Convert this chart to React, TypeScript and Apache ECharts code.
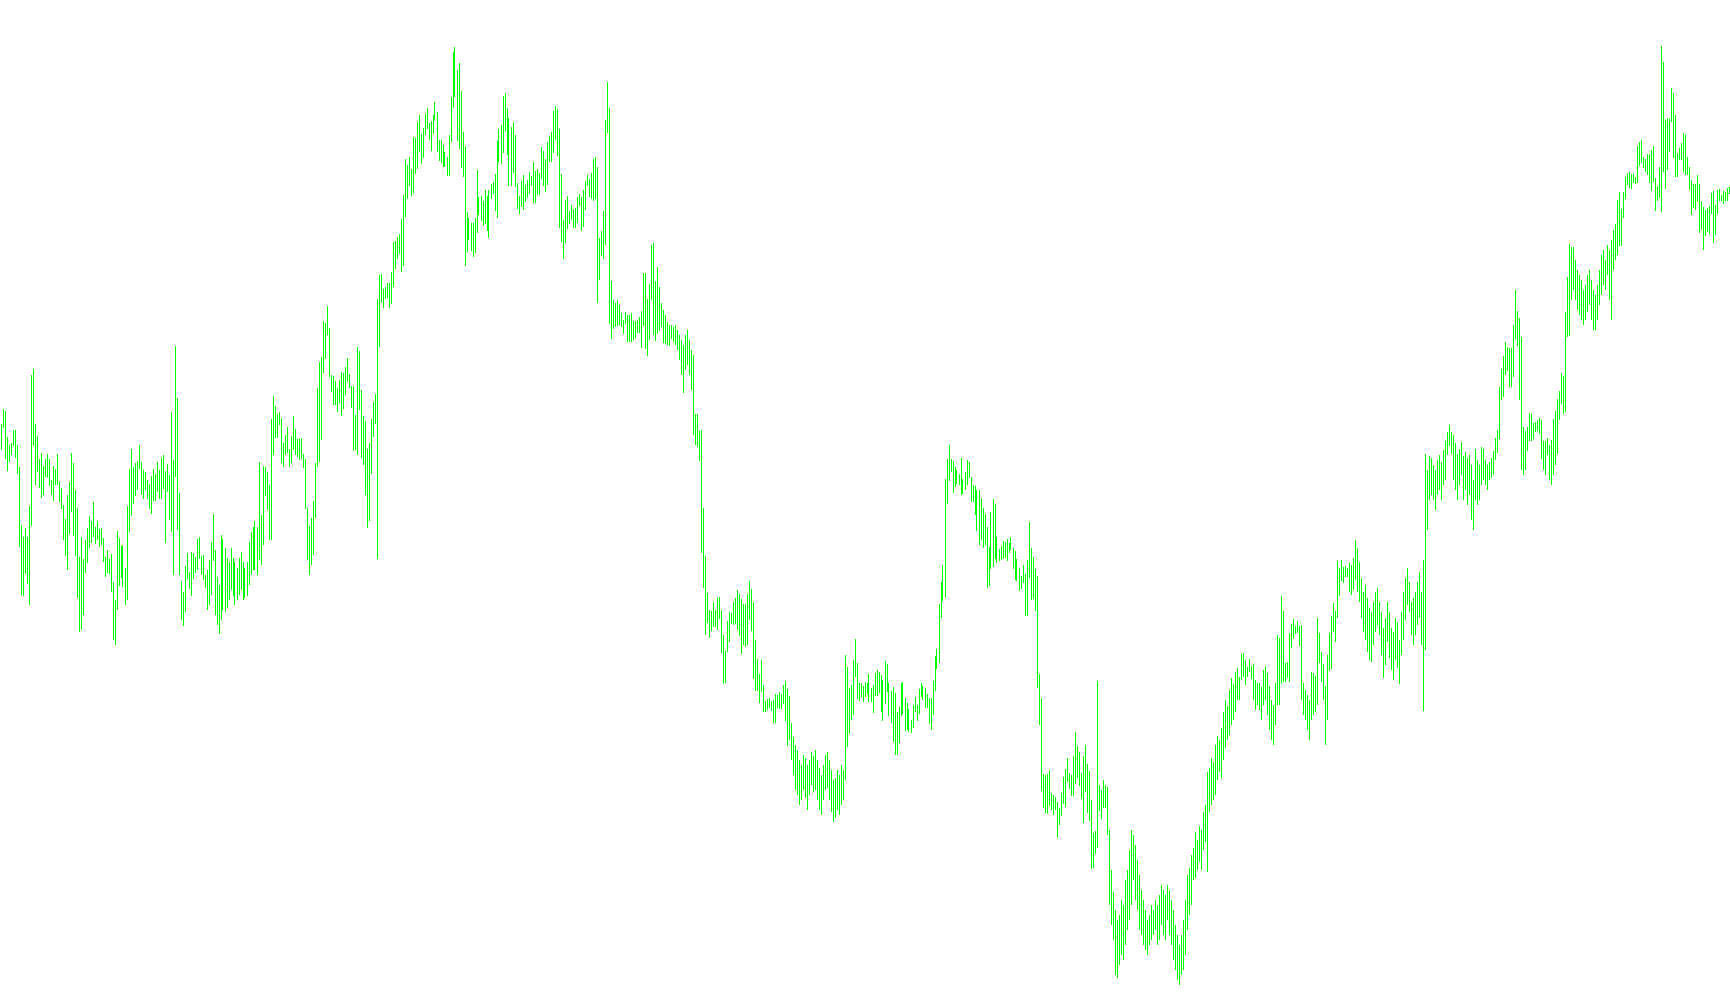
import React, { useEffect, useRef } from "react";
import * as echarts from "echarts";

// Each bar is a high-low range; values are on an inverted price-index axis (0 = top of chart).
const barTop: number[] = [
  424, 409, 411, 437, 445, 443, 430, 430, 445, 467,
  525, 537, 528, 537, 506, 375, 369, 424, 436, 459,
  453, 466, 459, 454, 459, 480, 466, 469, 454, 481,
  488, 505, 519, 495, 482, 453, 463, 490, 508, 557,
  537, 559, 540, 528, 516, 521, 502, 527, 521, 529,
  528, 538, 557, 550, 559, 554, 582, 600, 531, 538,
  546, 545, 568, 506, 469, 449, 467, 463, 461, 445,
  462, 470, 472, 480, 484, 476, 469, 474, 462, 470,
  458, 455, 471, 464, 475, 412, 460, 346, 398, 493,
  581, 592, 566, 553, 572, 552, 553, 557, 539, 537,
  556, 555, 575, 570, 560, 542, 514, 550, 577, 585,
  535, 539, 548, 558, 562, 548, 558, 562, 568, 558,
  552, 562, 568, 562, 542, 532, 527, 521, 527, 462,
  515, 466, 467, 472, 485, 419, 396, 406, 414, 412,
  418, 443, 435, 427, 449, 436, 416, 429, 439, 439,
  438, 454, 459, 508, 526, 518, 501, 463, 388, 362,
  357, 321, 323, 306, 328, 375, 376, 381, 388, 380,
  372, 373, 367, 358, 374, 386, 386, 415, 347, 351,
  390, 416, 421, 449, 443, 419, 402, 394, 299, 275,
  274, 289, 287, 283, 283, 272, 242, 241, 237, 234,
  219, 195, 159, 165, 157, 169, 137, 138, 122, 115,
  134, 128, 114, 108, 123, 121, 115, 102, 112, 140,
  140, 145, 152, 157, 135, 97, 52, 47, 70, 63,
  91, 132, 146, 212, 218, 223, 223, 218, 170, 197,
  196, 201, 190, 196, 190, 184, 182, 174, 141, 129,
  125, 96, 93, 108, 118, 127, 122, 135, 183, 196,
  181, 175, 185, 180, 172, 176, 162, 171, 169, 173,
  147, 151, 159, 142, 136, 132, 111, 106, 109, 129,
  174, 220, 200, 196, 211, 205, 209, 208, 197, 194,
  197, 190, 181, 175, 179, 173, 159, 157, 167, 238,
  231, 211, 120, 82, 108, 281, 300, 303, 300, 305,
  313, 320, 312, 315, 315, 313, 321, 321, 320, 317,
  311, 273, 273, 299, 284, 245, 243, 281, 267, 287,
  303, 310, 315, 322, 325, 325, 327, 325, 330, 335,
  340, 345, 335, 330, 340, 350, 355, 414, 414, 431,
  430, 508, 556, 593, 610, 611, 602, 610, 598, 597,
  610, 635, 651, 621, 612, 613, 602, 598, 590, 594,
  599, 604, 604, 594, 581, 589, 602, 640, 659, 674,
  660, 685, 701, 699, 698, 701, 700, 694, 695, 692,
  694, 685, 681, 689, 696, 723, 737, 745, 750, 760,
  765, 755, 758, 765, 760, 752, 756, 750, 760, 768,
  775, 765, 755, 752, 760, 770, 780, 778, 770, 775,
  765, 770, 655, 667, 688, 685, 660, 639, 663, 683,
  683, 686, 682, 683, 674, 688, 685, 673, 670, 672,
  675, 680, 661, 664, 683, 691, 687, 693, 712, 707,
  683, 682, 698, 703, 709, 720, 705, 697, 705, 689,
  683, 686, 688, 694, 698, 698, 681, 656, 649, 604,
  582, 565, 479, 459, 445, 459, 461, 467, 470, 474,
  458, 479, 472, 460, 462, 477, 485, 486, 490, 490,
  498, 508, 514, 527, 547, 512, 499, 504, 537, 549,
  546, 541, 542, 539, 543, 537, 548, 551, 559, 568,
  576, 565, 574, 560, 522, 548, 557, 569, 576, 674,
  698, 774, 775, 774, 770, 793, 795, 797, 802, 808,
  793, 777, 769, 758, 773, 775, 756, 732, 746, 752,
  773, 756, 745, 764, 771, 800, 833, 831, 681, 785,
  790, 780, 785, 787, 830, 870, 892, 910, 920, 915,
  900, 905, 880, 870, 850, 830, 835, 845, 860, 875,
  890, 900, 910, 920, 915, 905, 910, 900, 905, 895,
  885, 890, 895, 885, 890, 900, 910, 925, 935, 945,
  935, 920, 900, 875, 868, 855, 848, 832, 840, 826,
  830, 812, 805, 772, 768, 758, 762, 745, 736, 740,
  728, 712, 700, 706, 690, 678, 684, 672, 668, 677,
  654, 653, 660, 667, 659, 666, 664, 680, 683, 683,
  687, 670, 666, 673, 686, 700, 705, 683, 635, 638,
  596, 611, 663, 662, 633, 624, 619, 626, 621, 626,
  625, 683, 690, 695, 700, 672, 673, 676, 618, 633,
  652, 664, 686, 655, 633, 616, 603, 611, 561, 568,
  560, 567, 566, 568, 563, 565, 558, 540, 548, 562,
  578, 592, 585, 598, 608, 612, 602, 592, 588, 602,
  612, 628, 618, 602, 612, 628, 632, 618, 622, 640,
  612, 592, 578, 568, 582, 602, 598, 592, 582, 572,
  592, 560, 454, 470, 456, 458, 465, 470, 460, 455,
  462, 450, 441, 432, 425, 432, 435, 443, 454, 449,
  442, 456, 452, 458, 455, 465, 480, 449, 460, 465,
  447, 449, 460, 465, 462, 458, 451, 438, 430, 387,
  369, 356, 342, 347, 348, 348, 325, 290, 311, 318,
  337, 427, 431, 427, 413, 414, 423, 422, 420, 418,
  420, 441, 441, 438, 445, 440, 419, 411, 399, 391,
  373, 376, 312, 277, 244, 247, 247, 260, 270, 275,
  280, 290, 285, 275, 270, 280, 290, 295, 285, 270,
  255, 250, 260, 245, 250, 240, 230, 224, 200, 192,
  209, 192, 177, 173, 172, 174, 174, 177, 146, 142,
  140, 157, 159, 154, 154, 150, 146, 178, 186, 167,
  46, 62, 120, 118, 119, 88, 93, 115, 153, 148,
  143, 133, 135, 157, 167, 180, 184, 184, 175, 184,
  201, 207, 210, 208, 206, 193, 191, 205, 190, 189,
  195, 191, 192, 188, 187,
];

const barBottom: number[] = [
  450, 428, 459, 471, 462, 455, 446, 458, 474, 547,
  595, 596, 574, 584, 605, 526, 446, 485, 472, 488,
  498, 495, 477, 478, 486, 495, 501, 485, 485, 502,
  509, 540, 556, 570, 534, 512, 536, 556, 598, 632,
  630, 615, 573, 563, 548, 543, 537, 544, 540, 547,
  545, 562, 577, 573, 574, 592, 640, 645, 610, 586,
  578, 587, 605, 600, 532, 516, 504, 496, 490, 469,
  495, 499, 490, 499, 509, 514, 501, 501, 492, 499,
  499, 489, 543, 492, 520, 532, 575, 477, 530, 575,
  620, 626, 612, 579, 589, 596, 579, 573, 570, 559,
  575, 580, 588, 610, 605, 595, 561, 615, 625, 634,
  620, 610, 612, 608, 600, 590, 596, 605, 600, 595,
  590, 600, 598, 596, 585, 575, 570, 570, 575, 560,
  565, 545, 496, 510, 540, 540, 455, 438, 438, 425,
  463, 467, 455, 453, 467, 463, 450, 455, 457, 460,
  459, 468, 509, 560, 575, 565, 555, 518, 467, 462,
  440, 373, 359, 335, 377, 392, 405, 405, 412, 403,
  416, 409, 395, 382, 388, 408, 451, 450, 455, 410,
  458, 465, 495, 528, 521, 474, 437, 424, 559, 347,
  303, 308, 299, 298, 308, 304, 287, 269, 259, 254,
  272, 266, 217, 199, 186, 196, 193, 174, 169, 152,
  164, 158, 135, 129, 140, 151, 134, 121, 152, 161,
  163, 167, 167, 176, 176, 142, 108, 97, 141, 149,
  168, 177, 266, 252, 240, 251, 257, 253, 233, 215,
  221, 226, 224, 231, 238, 199, 194, 211, 218, 162,
  164, 153, 131, 155, 186, 186, 173, 187, 209, 214,
  207, 210, 202, 198, 194, 186, 203, 203, 195, 195,
  179, 186, 192, 185, 162, 162, 153, 140, 156, 228,
  242, 259, 243, 229, 224, 220, 228, 228, 223, 206,
  231, 227, 210, 186, 197, 199, 201, 199, 303, 280,
  256, 259, 245, 133, 324, 339, 329, 327, 326, 325,
  327, 334, 324, 342, 342, 342, 340, 338, 333, 333,
  348, 326, 349, 356, 340, 300, 335, 341, 334, 331,
  327, 343, 344, 345, 346, 339, 342, 345, 350, 360,
  375, 393, 370, 365, 375, 390, 435, 445, 447, 461,
  553, 588, 635, 623, 638, 631, 627, 627, 630, 619,
  653, 684, 683, 652, 642, 624, 625, 624, 630, 636,
  654, 645, 647, 645, 620, 631, 679, 691, 691, 703,
  692, 712, 712, 710, 708, 711, 723, 723, 708, 709,
  709, 704, 721, 746, 740, 760, 775, 790, 795, 805,
  800, 790, 798, 810, 795, 785, 792, 790, 800, 810,
  815, 800, 790, 788, 800, 812, 822, 818, 810, 815,
  805, 800, 780, 747, 734, 720, 715, 677, 699, 701,
  697, 702, 697, 694, 702, 702, 713, 696, 696, 693,
  712, 721, 704, 692, 716, 723, 742, 755, 755, 743,
  716, 714, 731, 730, 732, 733, 728, 712, 721, 714,
  697, 700, 708, 708, 724, 730, 715, 691, 669, 663,
  618, 601, 598, 504, 481, 472, 493, 487, 484, 485,
  495, 494, 490, 485, 478, 502, 502, 515, 531, 545,
  540, 548, 545, 588, 586, 569, 567, 559, 563, 561,
  560, 559, 558, 561, 553, 550, 569, 580, 581, 591,
  589, 583, 616, 616, 578, 600, 599, 611, 688, 725,
  791, 808, 813, 814, 806, 810, 815, 810, 838, 825,
  816, 804, 807, 782, 789, 796, 796, 784, 778, 786,
  799, 823, 792, 813, 821, 869, 868, 854, 848, 811,
  819, 808, 808, 835, 905, 925, 940, 975, 978, 965,
  955, 960, 945, 930, 920, 905, 880, 900, 910, 930,
  935, 945, 950, 955, 945, 940, 935, 930, 945, 940,
  925, 935, 940, 920, 935, 945, 960, 970, 980, 985,
  975, 970, 955, 930, 915, 905, 880, 878, 870, 862,
  870, 850, 842, 872, 812, 805, 800, 795, 780, 772,
  778, 760, 748, 740, 735, 725, 720, 712, 700, 700,
  680, 677, 685, 677, 672, 679, 700, 710, 705, 710,
  720, 705, 700, 715, 730, 740, 745, 725, 705, 705,
  684, 682, 682, 678, 682, 648, 639, 634, 633, 646,
  700, 715, 720, 730, 740, 720, 715, 712, 705, 663,
  682, 700, 745, 720, 671, 669, 632, 642, 618, 596,
  581, 583, 577, 577, 592, 595, 590, 580, 592, 602,
  618, 632, 640, 652, 660, 662, 645, 632, 625, 635,
  655, 678, 665, 642, 658, 670, 680, 660, 668, 684,
  655, 640, 620, 605, 612, 635, 645, 635, 625, 618,
  645, 711, 650, 530, 500, 495, 500, 510, 495, 490,
  500, 485, 480, 455, 446, 454, 480, 490, 500, 485,
  475, 500, 490, 505, 495, 520, 530, 500, 505, 500,
  485, 480, 485, 490, 480, 478, 475, 460, 453, 439,
  400, 397, 375, 371, 387, 387, 377, 339, 346, 400,
  470, 475, 470, 451, 441, 441, 439, 432, 431, 434,
  459, 470, 475, 455, 480, 485, 475, 465, 454, 420,
  404, 414, 412, 337, 336, 300, 290, 300, 310, 315,
  320, 325, 320, 312, 305, 320, 330, 330, 320, 305,
  295, 285, 290, 275, 300, 320, 270, 260, 255, 246,
  246, 218, 199, 185, 188, 189, 183, 184, 183, 166,
  163, 168, 172, 175, 183, 191, 182, 211, 201, 198,
  212, 172, 189, 170, 152, 122, 158, 177, 177, 160,
  160, 172, 175, 175, 190, 215, 208, 210, 202, 233,
  230, 250, 236, 232, 234, 214, 243, 235, 214, 201,
  201, 204, 201, 201, 194,
];

const categories: string[] = barTop.map((_, i) => String(i + 1));

const BAR_COLOR = "#00ff00";

export default function App() {
  const ref = useRef<HTMLDivElement>(null);

  useEffect(() => {
    if (!ref.current) return;
    const chart = echarts.init(ref.current, null, { renderer: "svg" });
    const data = barTop.map((t, i) => [i, t, barBottom[i]]);
    chart.setOption({
      animation: false,
      backgroundColor: "#ffffff",
      grid: { left: 0, top: 0, right: 0, bottom: 0 },
      xAxis: {
        type: "category",
        data: categories,
        boundaryGap: true,
        show: false,
      },
      yAxis: {
        type: "value",
        inverse: true,
        min: 0,
        max: 1005,
        show: false,
      },
      series: [
        {
          type: "custom",
          clip: false,
          encode: { x: 0, y: [1, 2] },
          data,
          renderItem: (params: any, api: any) => {
            const idx = api.value(0);
            const p1 = api.coord([idx, api.value(1)]);
            const p2 = api.coord([idx, api.value(2)]);
            // a filled 1px-wide rect aligned to the pixel grid keeps each bar crisp
            const x = Math.floor(p1[0]);
            const y1 = Math.round(p1[1]);
            const y2 = Math.round(p2[1]);
            return {
              type: "rect",
              shape: { x, y: y1, width: 1, height: Math.max(1, y2 - y1) },
              style: { fill: BAR_COLOR },
            };
          },
        },
      ],
    });
    return () => chart.dispose();
  }, []);

  return (
    <div
      ref={ref}
      style={{ position: "absolute", left: 0, top: 0, width: 1730, height: 1005 }}
    />
  );
}
